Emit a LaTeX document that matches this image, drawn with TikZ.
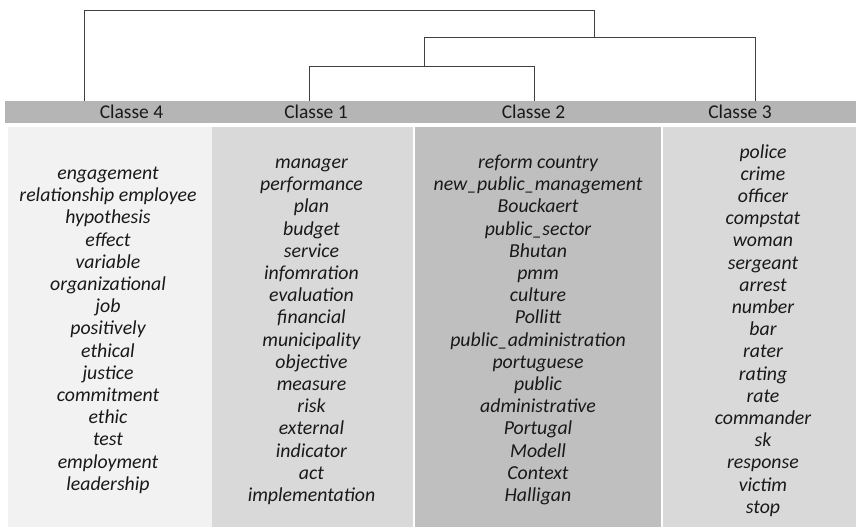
\documentclass[tikz,border=0pt]{standalone}
\usepackage{fontspec}
\setmainfont{Carlito}

\tikzset{
  word/.style={anchor=base, inner sep=0pt, text=black!90, font=\fontsize{19.8}{22}\selectfont\itshape},
  classlabel/.style={anchor=base, inner sep=0pt, text=black!90, font=\fontsize{19.5}{22}\selectfont},
  tree/.style={draw=black!75, line width=1.5pt},
}

\begin{document}
\begin{tikzpicture}[x=1pt,y=-1pt]
\useasboundingbox (0,0) rectangle (856,527);

\fill[black!29] (5,100.5) rectangle (856,123);
\fill[black!5] (8,127) rectangle (211.5,527);
\fill[black!15] (212,127) rectangle (412.5,527);
\fill[black!25] (415,127) rectangle (661,527);
\fill[black!15] (663,127) rectangle (856,527);

\node[classlabel] (c4) at (131.5,118) {Classe 4};
\node[classlabel] (c1) at (316,118) {Classe 1};
\node[classlabel] (c2) at (533.5,118) {Classe 2};
\node[classlabel] (c3) at (740,118) {Classe 3};

\coordinate (l4) at (84.5,100.5);
\coordinate (l1) at (309.5,100.5);
\coordinate (l2) at (534.5,100.5);
\coordinate (l3) at (755.5,100.5);
\coordinate (j12) at (424.5,66.7);
\coordinate (j123) at (594.3,37.7);
\coordinate (root) at (594.3,10.7);

\draw[tree] (l1) |- (j12) -| (l2);
\draw[tree] (j12) |- (j123) -| (l3);
\draw[tree] (j123) -- (root) -| (l4);

\foreach \w [count=\i from 0] in {engagement, relationship employee, hypothesis, effect, variable, organizational, job, positively, ethical, justice, commitment, ethic, test, employment, leadership}
  \node[word] (k4w\i) at (108,{179.5+22.2*\i}) {\w};

\foreach \w [count=\i from 0] in {manager, performance, plan, budget, service, infomration, evaluation, financial, municipality, objective, measure, risk, external, indicator, act, implementation}
  \node[word] (k1w\i) at (311.5,{168.5+22.2*\i}) {\w};

\foreach \w [count=\i from 0] in {reform country, new\_public\_management, Bouckaert, public\_sector, Bhutan, pmm, culture, Pollitt, public\_administration, portuguese, public, administrative, Portugal, Modell, Context, Halligan}
  \node[word] (k2w\i) at (538,{168.5+22.2*\i}) {\w};

\foreach \w [count=\i from 0] in {police, crime, officer, compstat, woman, sergeant, arrest, number, bar, rater, rating, rate, commander, sk, response, victim, stop}
  \node[word] (k3w\i) at (763,{158+22.2*\i}) {\w};
\end{tikzpicture}
\end{document}
